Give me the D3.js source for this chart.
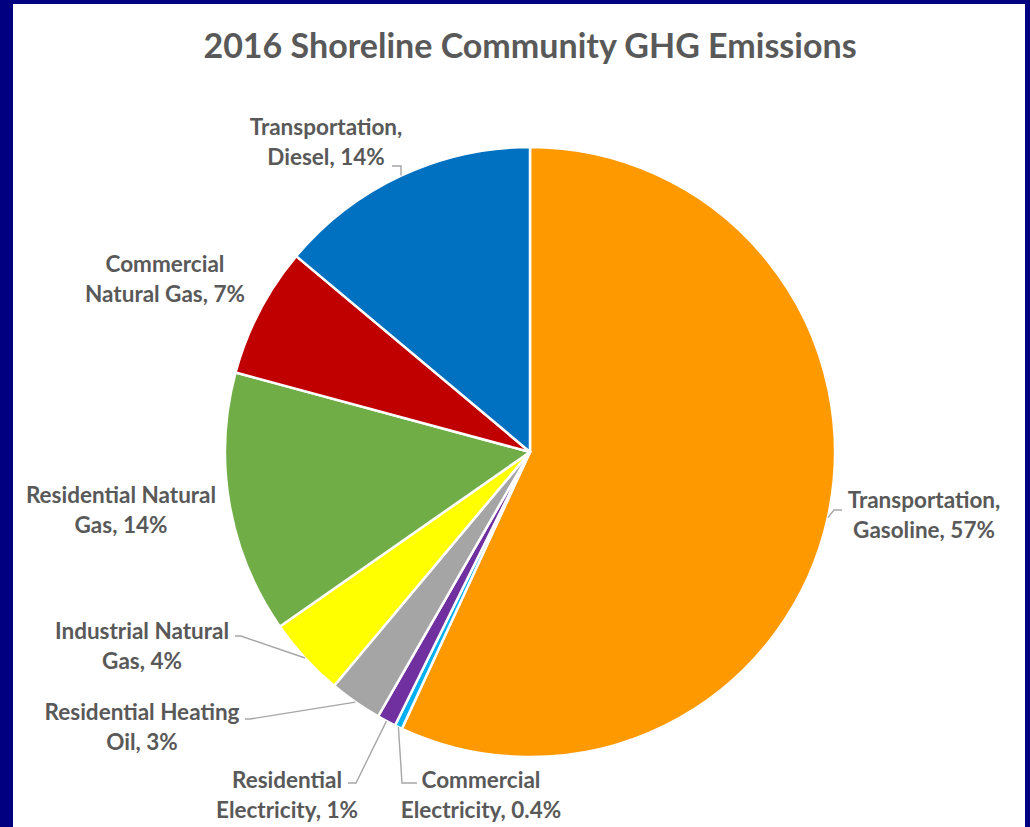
<!DOCTYPE html>
<html>
<head>
<meta charset="utf-8">
<title>2016 Shoreline Community GHG Emissions</title>
<script src="https://cdn.jsdelivr.net/npm/d3@7"></script>
<style>
  body { margin: 0; background: #000080; }
  text { font-family: Lato, "Open Sans", sans-serif; font-weight: bold; fill: #595959; }
</style>
</head>
<body>
<div id="chart"></div>
<script>
// data, clockwise from 12 o'clock
var categories = ["Transportation, Gasoline", "Commercial Electricity", "Residential Electricity",
                  "Residential Heating Oil", "Industrial Natural Gas", "Residential Natural Gas",
                  "Commercial Natural Gas", "Transportation, Diesel"];
var shares = [56.9, 0.4, 1.0, 2.8, 4.2, 13.9, 6.9, 13.9];
var pctLabels = ["57%", "0.4%", "1%", "3%", "4%", "14%", "7%", "14%"];
var labelLines = [
  ["Transportation,", "Gasoline, 57%"],
  ["Commercial", "Electricity, 0.4%"],
  ["Residential", "Electricity, 1%"],
  ["Residential Heating", "Oil, 3%"],
  ["Industrial Natural", "Gas, 4%"],
  ["Residential Natural", "Gas, 14%"],
  ["Commercial", "Natural Gas, 7%"],
  ["Transportation,", "Diesel, 14%"]
];
var colors = ["#FF9900", "#00B0F0", "#7030A0", "#A5A5A5", "#FFFF00", "#70AD47", "#C00000", "#0070C0"];

// label placement: centre x, first baseline, leader knee points
var labelPos = [
  {x: 924, y: 508, leader: [[834, 510], [842, 510]]},
  {x: 481, y: 788, leader: [[402, 783], [417, 783]]},
  {x: 287, y: 788, leader: [[356, 783], [348, 783]]},
  {x: 142, y: 720, leader: [[250, 719], [245, 719]]},
  {x: 142, y: 639, leader: [[241, 636], [235, 636]]},
  {x: 121, y: 503, leader: null},
  {x: 165, y: 272, leader: null},
  {x: 326, y: 135, leader: [[401, 166], [392, 166]]}
];

var W = 1030, H = 827;
var cx = 530, cy = 452, R = 305;

var svg = d3.select("#chart").append("svg")
    .attr("width", W)
    .attr("height", H)
    .style("display", "block");

// navy frame + white plot area
svg.append("rect").attr("width", W).attr("height", H).attr("fill", "#000080");
svg.append("rect").attr("x", 13).attr("y", 4).attr("width", 1012).attr("height", H).attr("fill", "#ffffff");

svg.append("text")
  .attr("x", cx)
  .attr("y", 58)
  .attr("text-anchor", "middle")
  .style("font-size", "34px")
  .text("2016 Shoreline Community GHG Emissions");

var pie = d3.pie().sort(null).value(function(d) { return d; });
var arcs = pie(shares);
var arc = d3.arc().innerRadius(0).outerRadius(R);
var edge = d3.arc().innerRadius(R).outerRadius(R);

var g = svg.append("g").attr("transform", "translate(" + cx + "," + cy + ")");

g.selectAll("path.slice").data(arcs)
  .enter().append("path")
  .attr("class", "slice")
  .attr("d", arc)
  .attr("fill", function(d, i) { return colors[i]; })
  .attr("stroke", "#ffffff")
  .attr("stroke-width", 2.5)
  .attr("stroke-linejoin", "round");

// leader lines from slice edge to label
arcs.forEach(function(d, i) {
  var lp = labelPos[i];
  if (!lp.leader) return;
  var p = edge.centroid(d);
  var pts = [[cx + p[0], cy + p[1]]].concat(lp.leader);
  svg.append("path")
    .attr("d", d3.line()(pts))
    .attr("fill", "none")
    .attr("stroke", "#A6A6A6")
    .attr("stroke-width", 1.4);
});

// data labels
labelLines.forEach(function(lines, i) {
  var lp = labelPos[i];
  var t = svg.append("text")
    .attr("text-anchor", "middle")
    .style("font-size", "22.5px");
  lines.forEach(function(s, k) {
    t.append("tspan").attr("x", lp.x).attr("y", lp.y + k * 30).text(s);
  });
});
</script>
</body>
</html>
